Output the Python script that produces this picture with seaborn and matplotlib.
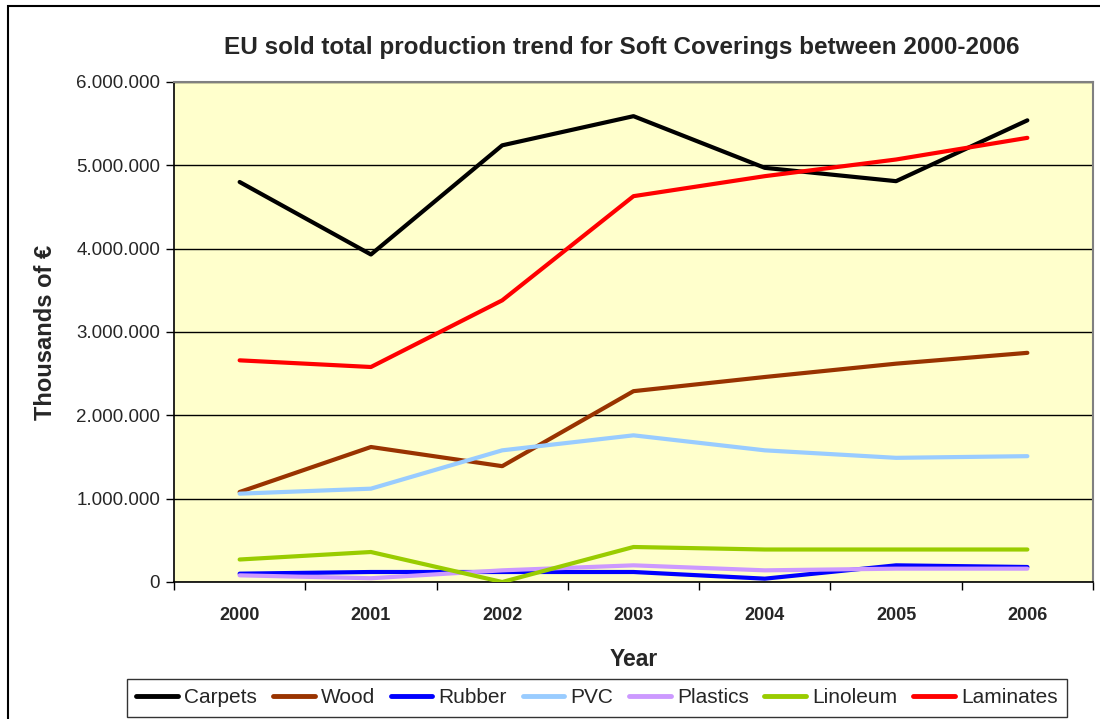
import matplotlib
matplotlib.use("Agg")
import matplotlib.pyplot as plt
from matplotlib.patches import Rectangle
from matplotlib.ticker import FuncFormatter, FixedLocator
import seaborn as sns
import pandas as pd

years = ["2000", "2001", "2002", "2003", "2004", "2005", "2006"]
materials = ["Carpets", "Wood", "Rubber", "PVC", "Plastics", "Linoleum", "Laminates"]

carpets = [4800000, 3930000, 5240000, 5590000, 4970000, 4810000, 5540000]
wood = [1080000, 1620000, 1390000, 2290000, 2460000, 2620000, 2750000]
rubber = [100000, 120000, 120000, 120000, 40000, 200000, 180000]
pvc = [1060000, 1120000, 1580000, 1760000, 1580000, 1490000, 1510000]
plastics = [80000, 45000, 140000, 200000, 140000, 160000, 160000]
linoleum = [270000, 360000, 0, 420000, 390000, 390000, 390000]
laminates = [2660000, 2580000, 3380000, 4630000, 4870000, 5070000, 5330000]

colors = {
    "Carpets": "#000000",
    "Wood": "#993300",
    "Rubber": "#0000FF",
    "PVC": "#99CCFF",
    "Plastics": "#CC99FF",
    "Linoleum": "#99CC00",
    "Laminates": "#FF0000",
}

series = [carpets, wood, rubber, pvc, plastics, linoleum, laminates]
rows = []
for name, vals in zip(materials, series):
    for i, v in enumerate(vals):
        rows.append({"year_idx": i, "value": v, "material": name})
df = pd.DataFrame(rows)

sns.set_style("white")
plt.rcParams["font.family"] = ["Liberation Sans", "DejaVu Sans"]

fig = plt.figure(figsize=(11, 7.19), dpi=100)
ax = fig.add_axes([174 / 1100, 1 - 582 / 719, (1093 - 174) / 1100, (582 - 82) / 719])
ax.set_facecolor("#FFFFCC")

sns.lineplot(
    data=df,
    x="year_idx",
    y="value",
    hue="material",
    hue_order=materials,
    palette=colors,
    linewidth=3,
    ax=ax,
    legend=False,
    zorder=3,
)

ax.set_xlim(-0.5, 6.5)
ax.set_ylim(0, 6000000)
ax.set_yticks(range(0, 6000001, 1000000))
ax.yaxis.set_major_formatter(FuncFormatter(lambda v, p: f"{int(v):,}".replace(",", ".")))
ax.grid(axis="y", color="black", linewidth=1, zorder=1)
ax.set_axisbelow(True)

ax.xaxis.set_major_locator(FixedLocator([i - 0.5 for i in range(8)]))
ax.xaxis.set_minor_locator(FixedLocator(list(range(7))))
ax.set_xticklabels([])
ax.set_xticklabels(years, minor=True, fontweight="bold", fontsize=13)
ax.tick_params(axis="x", which="major", direction="out", length=6, width=1, color="black")
ax.tick_params(axis="x", which="minor", length=0, pad=18)
ax.tick_params(axis="y", direction="out", length=6, width=1, color="black", labelsize=13.5, pad=4)
ax.tick_params(left=True, bottom=True)

for side in ["top", "right"]:
    ax.spines[side].set_color("#808080")
    ax.spines[side].set_linewidth(1.5)
for side in ["left", "bottom"]:
    ax.spines[side].set_color("black")
    ax.spines[side].set_linewidth(1.2)

ax.set_xlabel("Year", fontsize=16.5, fontweight="bold", labelpad=17)
ax.set_ylabel("Thousands of €", fontsize=17, fontweight="bold", labelpad=14)
ax.set_title("EU sold total production trend for Soft Coverings between 2000-2006",
             fontsize=17.5, fontweight="bold", pad=20, x=0.4875)

handles = [plt.Line2D([0], [0], color=colors[m], linewidth=3.5) for m in materials]
leg = fig.legend(
    handles, materials,
    loc="upper center",
    bbox_to_anchor=(597 / 1100, 1 - 679 / 719),
    borderaxespad=0,
    ncol=7,
    fontsize=15,
    frameon=True,
    fancybox=False,
    edgecolor="black",
    handlelength=2.0,
    handletextpad=0.3,
    columnspacing=0.75,
    borderpad=0.45,
)
leg.get_frame().set_linewidth(1)

fig.patches.append(Rectangle((8 / 1100, -0.05), 1.1, 1 - 6 / 719 + 0.05,
                             transform=fig.transFigure, fill=False,
                             edgecolor="black", linewidth=1.5))

fig.savefig("out.png", dpi=100)
